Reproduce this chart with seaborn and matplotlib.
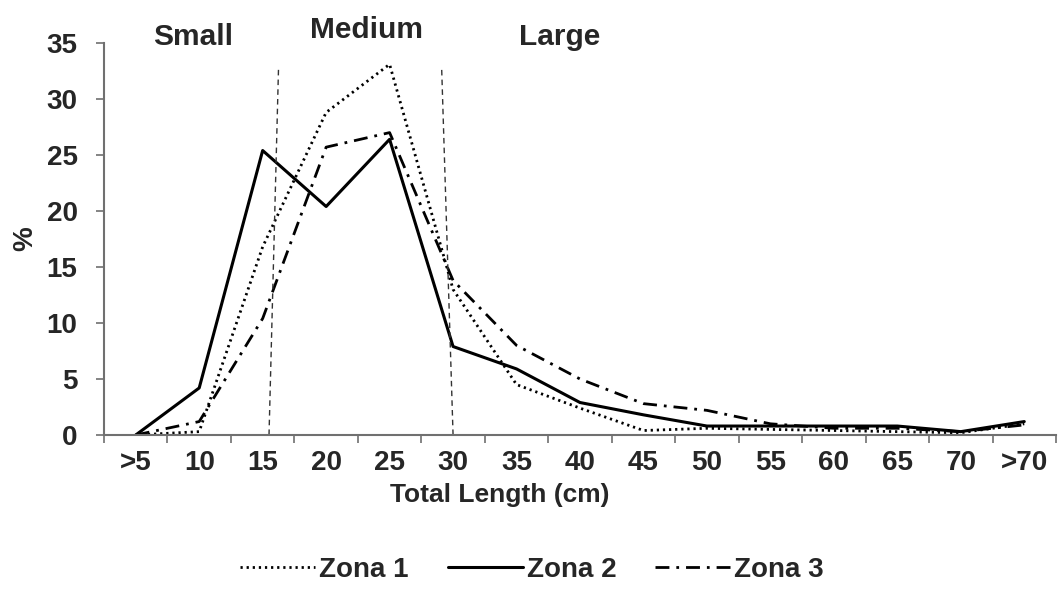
import matplotlib
matplotlib.use("Agg")
import matplotlib.pyplot as plt
import seaborn as sns
import numpy as np
import pandas as pd

# ---- data ----
categories = [">5", "10", "15", "20", "25", "30", "35", "40", "45", "50", "55", "60", "65", "70", ">70"]
zona1 = [0.0, 0.3, 16.8, 28.8, 33.1, 13.0, 4.5, 2.4, 0.4, 0.6, 0.5, 0.4, 0.3, 0.2, 1.0]
zona2 = [0.0, 4.2, 25.4, 20.4, 26.4, 7.9, 5.9, 2.9, 1.8, 0.8, 0.8, 0.8, 0.8, 0.3, 1.2]
zona3 = [0.0, 1.2, 10.4, 25.7, 27.0, 13.8, 8.0, 5.0, 2.8, 2.2, 1.0, 0.6, 0.6, 0.3, 0.9]
series_names = ["Zona 1", "Zona 2", "Zona 3"]
y_ticks = [0, 5, 10, 15, 20, 25, 30, 35]

# size-class boundaries (category-index positions, bottom and top of dashed lines)
boundary_bottom = [2.1, 5.0]
boundary_top = [2.25, 4.82]
boundary_height = 32.8
region_labels = ["Small", "Medium", "Large"]
region_x = [0.9, 3.64, 6.68]
region_y = [35.5, 36.2, 35.5]

sns.set_theme(style="white")
plt.rcParams["font.family"] = ["Liberation Sans", "DejaVu Sans"]
plt.rcParams["font.weight"] = "bold"

fig = plt.figure(figsize=(10.58, 5.95), dpi=100)
ax = fig.add_axes([104 / 1058, 1 - 435 / 595, (1056 - 104) / 1058, (435 - 43) / 595])

idx = np.arange(len(categories))
df = pd.DataFrame({"x": np.tile(idx, 3),
                   "y": zona1 + zona2 + zona3,
                   "zona": np.repeat(series_names, len(categories))})

styles = {
    "Zona 1": dict(linestyle=(0, (0.8, 1.4)), linewidth=2.0),
    "Zona 2": dict(linestyle="-", linewidth=2.2),
    "Zona 3": dict(linestyle=(0, (5, 2.5, 1, 2.5)), linewidth=2.0),
}
for name in series_names:
    sub = df[df.zona == name]
    sns.lineplot(data=sub, x="x", y="y", ax=ax, color="black", label=name,
                 **styles[name])

# dashed boundary lines
for b0, b1 in zip(boundary_bottom, boundary_top):
    ax.plot([b0, b1], [0, boundary_height], color="#333333", linestyle=(0, (4, 3)),
            linewidth=1.0)

for lab, rx, ry in zip(region_labels, region_x, region_y):
    ax.text(rx, ry, lab, ha="center", va="center", fontsize=21.5, fontweight="bold",
            clip_on=False)

ax.set_xlim(-0.5, len(categories) - 0.5)
ax.set_ylim(0, 35)
ax.set_xticks(idx)
ax.set_xticklabels(categories)
ax.set_xticks(np.arange(-0.5, len(categories), 1.0), minor=True)
ax.set_yticks(y_ticks)
ax.tick_params(axis="x", which="major", length=0, pad=11, labelsize=20)
ax.tick_params(axis="x", which="minor", length=6, width=1.2, color="#707070", bottom=True)
ax.tick_params(axis="y", which="major", length=6, width=1.2, color="#707070", pad=13,
               labelsize=20, left=True)
for t in ax.get_xticklabels() + ax.get_yticklabels():
    t.set_fontweight("bold")

for s in ["top", "right"]:
    ax.spines[s].set_visible(False)
for s in ["left", "bottom"]:
    ax.spines[s].set_color("#707070")
    ax.spines[s].set_linewidth(1.5)

ax.set_xlabel("Total Length (cm)", fontsize=19, fontweight="bold", labelpad=3)
ax.xaxis.set_label_coords((500 - 104) / 952, -0.122)
ax.set_ylabel("%", fontsize=20, fontweight="bold", labelpad=6)

handles, labels = ax.get_legend_handles_labels()
ax.get_legend().remove()
fig.legend(handles, labels, loc="center", bbox_to_anchor=(532 / 1058, 1 - 570 / 595), ncol=3,
           frameon=False, handlelength=2.7, handletextpad=0.15,
           columnspacing=1.4, prop={"weight": "bold", "size": 20})

fig.savefig("out.png", dpi=100)
